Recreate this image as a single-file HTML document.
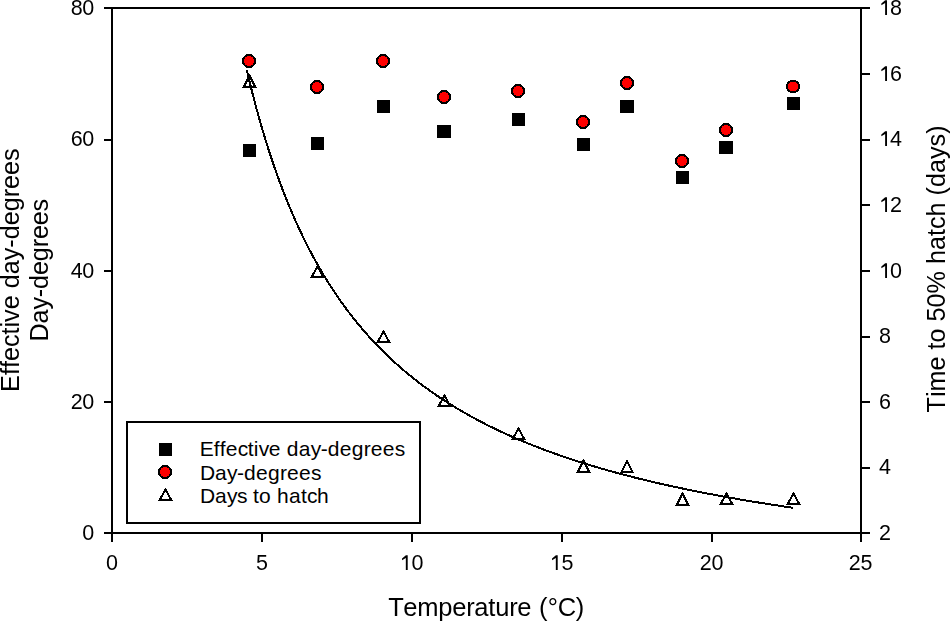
<!DOCTYPE html>
<html><head><meta charset="utf-8"><style>
html,body{margin:0;padding:0;background:#fff;width:952px;height:621px;overflow:hidden}
svg{display:block;position:absolute;left:0;top:0}
#main{will-change:transform}
text{font-family:"Liberation Sans",sans-serif;fill:#000;font-kerning:none;font-feature-settings:"kern" 0}
.t{font-size:21.5px}
.l{font-size:21px}
.a{font-size:25.5px}
.r{font-size:25.2px}
</style></head><body>
<svg width="952" height="621" viewBox="0 0 952 621">
<text x="199.8 213.8 219.8 225.8 237.8 247.8 253.8 258.8 268.8 280.8 286.8 298.8 310.8 320.8 327.8 339.8 351.8 363.8 370.8 382.8 394.8" y="456" class="l">Effective day-degrees</text>
<text x="200.1 215.1 227.1 237.1 244.1 256.1 268.1 280.1 287.1 299.1 311.1" y="480" class="l">Day-degrees</text>
<text x="200.1 215.1 227.1 237.1 247.1 253.1 259.1 271.1 277.1 289.1 301.1 307.1 317.1" y="503" class="l">Days to hatch</text>
</svg>
<svg id="main" width="952" height="621" viewBox="0 0 952 621" shape-rendering="crispEdges">
<rect x="111" y="7" width="751" height="2" fill="#000"/>
<rect x="111" y="532" width="751" height="2" fill="#000"/>
<rect x="111" y="7" width="2" height="527" fill="#000"/>
<rect x="860" y="7" width="2" height="527" fill="#000"/>
<rect x="104" y="532" width="8" height="2" fill="#000"/>
<text x="82.30" y="540" class="t">0</text>
<rect x="104" y="401" width="8" height="2" fill="#000"/>
<text x="70.70" y="409" class="t">2</text>
<text x="82.30" y="409" class="t">0</text>
<rect x="104" y="270" width="8" height="2" fill="#000"/>
<text x="70.70" y="278" class="t">4</text>
<text x="82.30" y="278" class="t">0</text>
<rect x="104" y="139" width="8" height="2" fill="#000"/>
<text x="70.70" y="146" class="t">6</text>
<text x="82.30" y="146" class="t">0</text>
<rect x="104" y="7" width="8" height="2" fill="#000"/>
<text x="70.70" y="15" class="t">8</text>
<text x="82.30" y="15" class="t">0</text>
<rect x="861" y="532" width="9" height="2" fill="#000"/>
<text x="879.00" y="540" class="t">2</text>
<rect x="861" y="467" width="9" height="2" fill="#000"/>
<text x="879.00" y="474" class="t">4</text>
<rect x="861" y="401" width="9" height="2" fill="#000"/>
<text x="879.00" y="409" class="t">6</text>
<rect x="861" y="336" width="9" height="2" fill="#000"/>
<text x="879.00" y="343" class="t">8</text>
<rect x="861" y="270" width="9" height="2" fill="#000"/>
<path d="M584,0 L584,1140 L223,925 L223,1090 L590,1409 L763,1409 L763,0 Z" transform="translate(879.00,278) scale(0.010498,-0.010498)" fill="#000" shape-rendering="geometricPrecision"/>
<text x="890.00" y="278" class="t">0</text>
<rect x="861" y="204" width="9" height="2" fill="#000"/>
<path d="M584,0 L584,1140 L223,925 L223,1090 L590,1409 L763,1409 L763,0 Z" transform="translate(879.00,212) scale(0.010498,-0.010498)" fill="#000" shape-rendering="geometricPrecision"/>
<text x="890.00" y="212" class="t">2</text>
<rect x="861" y="139" width="9" height="2" fill="#000"/>
<path d="M584,0 L584,1140 L223,925 L223,1090 L590,1409 L763,1409 L763,0 Z" transform="translate(879.00,146) scale(0.010498,-0.010498)" fill="#000" shape-rendering="geometricPrecision"/>
<text x="890.00" y="146" class="t">4</text>
<rect x="861" y="73" width="9" height="2" fill="#000"/>
<path d="M584,0 L584,1140 L223,925 L223,1090 L590,1409 L763,1409 L763,0 Z" transform="translate(879.00,81) scale(0.010498,-0.010498)" fill="#000" shape-rendering="geometricPrecision"/>
<text x="890.00" y="81" class="t">6</text>
<rect x="861" y="7" width="9" height="2" fill="#000"/>
<path d="M584,0 L584,1140 L223,925 L223,1090 L590,1409 L763,1409 L763,0 Z" transform="translate(879.00,15) scale(0.010498,-0.010498)" fill="#000" shape-rendering="geometricPrecision"/>
<text x="890.00" y="15" class="t">8</text>
<rect x="111" y="533" width="2" height="9" fill="#000"/>
<text x="106.10" y="570" class="t">0</text>
<rect x="261" y="533" width="2" height="9" fill="#000"/>
<text x="256.10" y="570" class="t">5</text>
<rect x="411" y="533" width="2" height="9" fill="#000"/>
<path d="M584,0 L584,1140 L223,925 L223,1090 L590,1409 L763,1409 L763,0 Z" transform="translate(399.70,570) scale(0.010498,-0.010498)" fill="#000" shape-rendering="geometricPrecision"/>
<text x="411.40" y="570" class="t">0</text>
<rect x="561" y="533" width="2" height="9" fill="#000"/>
<path d="M584,0 L584,1140 L223,925 L223,1090 L590,1409 L763,1409 L763,0 Z" transform="translate(549.70,570) scale(0.010498,-0.010498)" fill="#000" shape-rendering="geometricPrecision"/>
<text x="561.40" y="570" class="t">5</text>
<rect x="711" y="533" width="2" height="9" fill="#000"/>
<text x="699.70" y="570" class="t">2</text>
<text x="711.40" y="570" class="t">0</text>
<rect x="860" y="533" width="2" height="9" fill="#000"/>
<text x="848.70" y="570" class="t">2</text>
<text x="860.40" y="570" class="t">5</text>
<rect x="127" y="422" width="293" height="101" fill="none" stroke="#000" stroke-width="2"/>
<rect x="159" y="443" width="13" height="13" fill="#000"/>
<circle cx="165" cy="472" r="6" fill="#f00" stroke="#000" stroke-width="2"/>
<path d="M165.50,487.5 L173.00,501 L158.00,501 Z M165.50,491.62 L161.40,499 L169.60,499 Z" fill="#000" fill-rule="evenodd"/>
<text x="388.3 403.3 417.3 438.3 452.3 466.3 474.3 488.3 495.3 509.3 517.3 531.3 538.9 547.8 557.8 575.8" y="616" class="a">Temperature (°C)</text>
<text transform="translate(19,391.9) rotate(-90)" x="0" y="0" class="r">Effective day-degrees</text>
<text transform="translate(47.6,341.5) rotate(-90)" x="0" y="0" class="r" style="letter-spacing:-0.15px">Day-degrees</text>
<text transform="translate(945,412.4) rotate(-90)" x="0" y="0" class="r">Time to 50% hatch (days)</text>
<path d="M246.75,69.95 L248.58,77.63 L250.40,85.10 L252.23,92.37 L254.06,99.45 L255.89,106.33 L257.71,113.04 L259.54,119.58 L261.37,125.94 L263.19,132.15 L265.02,138.20 L266.85,144.10 L268.67,149.86 L270.50,155.48 L272.33,160.97 L274.15,166.33 L275.98,171.56 L277.81,176.68 L279.64,181.67 L281.46,186.56 L283.29,191.33 L285.12,196.01 L286.94,200.57 L288.77,205.04 L290.60,209.42 L292.42,213.70 L294.25,217.90 L296.08,222.00 L297.90,226.02 L299.73,229.97 L301.56,233.83 L303.38,237.61 L305.21,241.32 L307.04,244.96 L308.87,248.52 L310.69,252.02 L312.52,255.46 L314.35,258.82 L316.17,262.13 L318.00,265.37 L319.83,268.55 L321.65,271.68 L323.48,274.75 L325.31,277.76 L327.13,280.73 L328.96,283.63 L330.79,286.49 L332.61,289.30 L334.44,292.06 L336.27,294.78 L338.10,297.45 L339.92,300.07 L341.75,302.65 L343.58,305.19 L345.40,307.68 L347.23,310.14 L349.06,312.56 L350.88,314.93 L352.71,317.27 L354.54,319.58 L356.36,321.84 L358.19,324.08 L360.02,326.28 L361.85,328.44 L363.67,330.57 L365.50,332.67 L367.33,334.74 L369.15,336.78 L370.98,338.78 L372.81,340.76 L374.63,342.71 L376.46,344.63 L378.29,346.53 L380.11,348.39 L381.94,350.24 L383.77,352.05 L385.59,353.84 L387.42,355.60 L389.25,357.35 L391.08,359.06 L392.90,360.76 L394.73,362.43 L396.56,364.07 L398.38,365.70 L400.21,367.31 L402.04,368.89 L403.86,370.45 L405.69,371.99 L407.52,373.52 L409.34,375.02 L411.17,376.51 L413.00,377.97 L414.82,379.42 L416.65,380.85 L418.48,382.26 L420.31,383.65 L422.13,385.03 L423.96,386.39 L425.79,387.73 L427.61,389.06 L429.44,390.37 L431.27,391.66 L433.09,392.94 L434.92,394.21 L436.75,395.46 L438.57,396.69 L440.40,397.91 L442.23,399.12 L444.06,400.31 L445.88,401.49 L447.71,402.66 L449.54,403.81 L451.36,404.95 L453.19,406.08 L455.02,407.19 L456.84,408.30 L458.67,409.39 L460.50,410.47 L462.32,411.53 L464.15,412.59 L465.98,413.63 L467.80,414.66 L469.63,415.68 L471.46,416.70 L473.29,417.70 L475.11,418.68 L476.94,419.66 L478.77,420.63 L480.59,421.59 L482.42,422.54 L484.25,423.48 L486.07,424.41 L487.90,425.33 L489.73,426.24 L491.55,427.14 L493.38,428.04 L495.21,428.92 L497.03,429.80 L498.86,430.66 L500.69,431.52 L502.52,432.37 L504.34,433.21 L506.17,434.05 L508.00,434.87 L509.82,435.69 L511.65,436.50 L513.48,437.30 L515.30,438.09 L517.13,438.88 L518.96,439.66 L520.78,440.43 L522.61,441.20 L524.44,441.96 L526.27,442.71 L528.09,443.45 L529.92,444.19 L531.75,444.92 L533.57,445.64 L535.40,446.36 L537.23,447.07 L539.05,447.78 L540.88,448.47 L542.71,449.17 L544.53,449.85 L546.36,450.53 L548.19,451.21 L550.01,451.88 L551.84,452.54 L553.67,453.20 L555.50,453.85 L557.32,454.49 L559.15,455.13 L560.98,455.77 L562.80,456.40 L564.63,457.02 L566.46,457.64 L568.28,458.25 L570.11,458.86 L571.94,459.46 L573.76,460.06 L575.59,460.66 L577.42,461.25 L579.24,461.83 L581.07,462.41 L582.90,462.98 L584.73,463.55 L586.55,464.12 L588.38,464.68 L590.21,465.24 L592.03,465.79 L593.86,466.33 L595.69,466.88 L597.51,467.42 L599.34,467.95 L601.17,468.48 L602.99,469.01 L604.82,469.53 L606.65,470.05 L608.48,470.56 L610.30,471.07 L612.13,471.58 L613.96,472.08 L615.78,472.58 L617.61,473.08 L619.44,473.57 L621.26,474.06 L623.09,474.54 L624.92,475.02 L626.74,475.50 L628.57,475.97 L630.40,476.44 L632.22,476.91 L634.05,477.37 L635.88,477.83 L637.71,478.29 L639.53,478.74 L641.36,479.19 L643.19,479.63 L645.01,480.08 L646.84,480.52 L648.67,480.96 L650.49,481.39 L652.32,481.82 L654.15,482.25 L655.97,482.67 L657.80,483.10 L659.63,483.51 L661.45,483.93 L663.28,484.34 L665.11,484.75 L666.94,485.16 L668.76,485.57 L670.59,485.97 L672.42,486.37 L674.24,486.76 L676.07,487.16 L677.90,487.55 L679.72,487.94 L681.55,488.32 L683.38,488.71 L685.20,489.09 L687.03,489.47 L688.86,489.84 L690.69,490.21 L692.51,490.59 L694.34,490.95 L696.17,491.32 L697.99,491.68 L699.82,492.05 L701.65,492.40 L703.47,492.76 L705.30,493.12 L707.13,493.47 L708.95,493.82 L710.78,494.16 L712.61,494.51 L714.43,494.85 L716.26,495.19 L718.09,495.53 L719.92,495.87 L721.74,496.20 L723.57,496.54 L725.40,496.87 L727.22,497.20 L729.05,497.52 L730.88,497.85 L732.70,498.17 L734.53,498.49 L736.36,498.81 L738.18,499.13 L740.01,499.44 L741.84,499.75 L743.66,500.06 L745.49,500.37 L747.32,500.68 L749.15,500.99 L750.97,501.29 L752.80,501.59 L754.63,501.89 L756.45,502.19 L758.28,502.48 L760.11,502.78 L761.93,503.07 L763.76,503.36 L765.59,503.65 L767.41,503.94 L769.24,504.23 L771.07,504.51 L772.90,504.79 L774.72,505.07 L776.55,505.35 L778.38,505.63 L780.20,505.91 L782.03,506.18 L783.86,506.46 L785.68,506.73 L787.51,507.00 L789.34,507.27 L791.16,507.53 L792.99,507.80" fill="none" stroke="#000" stroke-width="2"/>
<rect x="243" y="144" width="13" height="13" fill="#000"/>
<rect x="311" y="137" width="13" height="13" fill="#000"/>
<rect x="377" y="100" width="13" height="13" fill="#000"/>
<rect x="437" y="125" width="14" height="13" fill="#000"/>
<rect x="512" y="113" width="13" height="13" fill="#000"/>
<rect x="577" y="138" width="13" height="13" fill="#000"/>
<rect x="620" y="100" width="14" height="13" fill="#000"/>
<rect x="676" y="171" width="13" height="13" fill="#000"/>
<rect x="719" y="141" width="14" height="13" fill="#000"/>
<rect x="787" y="97" width="13" height="13" fill="#000"/>
<circle cx="249" cy="61" r="6" fill="#f00" stroke="#000" stroke-width="2"/>
<circle cx="317" cy="87" r="6" fill="#f00" stroke="#000" stroke-width="2"/>
<circle cx="383" cy="61" r="6" fill="#f00" stroke="#000" stroke-width="2"/>
<circle cx="444" cy="97" r="6" fill="#f00" stroke="#000" stroke-width="2"/>
<circle cx="518" cy="91" r="6" fill="#f00" stroke="#000" stroke-width="2"/>
<circle cx="583" cy="122" r="6" fill="#f00" stroke="#000" stroke-width="2"/>
<circle cx="627" cy="83" r="6" fill="#f00" stroke="#000" stroke-width="2"/>
<circle cx="682" cy="161" r="6" fill="#f00" stroke="#000" stroke-width="2"/>
<circle cx="726" cy="130" r="6" fill="#f00" stroke="#000" stroke-width="2"/>
<circle cx="793" cy="86.5" r="6" fill="#f00" stroke="#000" stroke-width="2"/>
<path d="M249.50,73.5 L257.00,88 L242.00,88 Z M249.50,77.85 L245.29,86 L253.71,86 Z" fill="#000" fill-rule="evenodd"/>
<path d="M317.50,264.5 L325.00,278 L310.00,278 Z M317.50,268.62 L313.40,276 L321.60,276 Z" fill="#000" fill-rule="evenodd"/>
<path d="M383.50,329.5 L391.00,343 L376.00,343 Z M383.50,333.62 L379.40,341 L387.60,341 Z" fill="#000" fill-rule="evenodd"/>
<path d="M444.50,393.5 L452.00,407 L437.00,407 Z M444.50,397.62 L440.40,405 L448.60,405 Z" fill="#000" fill-rule="evenodd"/>
<path d="M518.50,426.5 L526.00,440 L511.00,440 Z M518.50,430.62 L514.40,438 L522.60,438 Z" fill="#000" fill-rule="evenodd"/>
<path d="M583.50,458.5 L591.00,473 L576.00,473 Z M583.50,462.85 L579.29,471 L587.71,471 Z" fill="#000" fill-rule="evenodd"/>
<path d="M627.00,458.5 L634.00,473 L620.00,473 Z M627.00,463.10 L623.19,471 L630.81,471 Z" fill="#000" fill-rule="evenodd"/>
<path d="M682.50,491.5 L690.00,506 L675.00,506 Z M682.50,495.85 L678.29,504 L686.71,504 Z" fill="#000" fill-rule="evenodd"/>
<path d="M726.50,491.5 L734.00,505 L719.00,505 Z M726.50,495.62 L722.40,503 L730.60,503 Z" fill="#000" fill-rule="evenodd"/>
<path d="M793.50,491.5 L801.00,505 L786.00,505 Z M793.50,495.62 L789.40,503 L797.60,503 Z" fill="#000" fill-rule="evenodd"/>
</svg>
</body></html>
